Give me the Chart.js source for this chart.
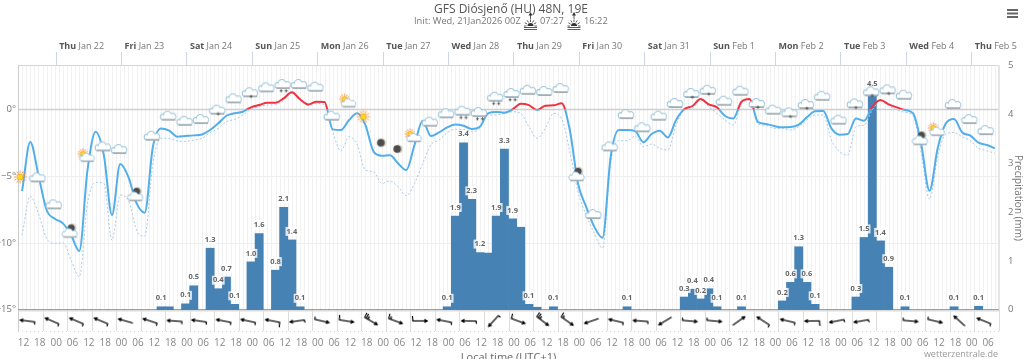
<!DOCTYPE html>
<html>
<head>
<meta charset="utf-8">
<title>GFS Diósjenő</title>
<script src="https://cdn.jsdelivr.net/npm/chart.js@4"></script>
<style>
    body { margin: 0; padding: 0; background: #fff; overflow: hidden; }
    canvas { display: block; }
</style>
</head>
<body>
<canvas id="chart" width="1024" height="359"></canvas>
<script>
// 3-hourly data, hour 0 = Thu Jan 22 00:00 local
const temp = [-6.12,-2.45,-4.92,-7.54,-8.19,-8.54,-9.42,-10.6,-4.55,-1.68,
    -3.42,-7.92,-4.1,-5.05,-7.03,-7.74,-2.8,-1.43,-1.6,-2.05,
    -2.0,-1.95,-1.88,-1.55,-1.05,-0.48,-0.3,-0.18,0.15,0.32,
    0.5,0.5,0.82,1.27,0.75,0.37,0.57,0.55,-1.5,-1.55,
    -0.8,-0.3,-1.18,-3.17,-3.47,-3.43,-4.05,-4.55,-2.67,-0.85,
    -2.0,-1.73,-1.35,-1.13,-1.23,-1.47,-1.3,-0.3,-0.2,-0.25,
    0,0.42,0.32,-0.05,0.27,0.3,0.45,-1.55,-5.55,-7.3,
    -8.8,-9.62,-3.55,-1.55,-1.55,-1.63,-2.47,-1.85,-1.6,-2.1,
    -0.8,0,0.25,0.77,0.37,0.15,-0.5,-0.68,0.57,0.77,
    -0.93,-1.1,-1.25,-1.35,-1.33,-1.15,-0.6,-0.15,-0.13,-1.43,
    -1.9,-1.85,-0.68,-0.85,0.2,0.7,0.37,0.15,-0.05,-0.3,
    -2.67,-6.1,-2.92,-1.05,-0.73,-1.73,-1.97,-2.5,-2.67,-2.92];
const dew = [-9.42,-6.5,-7.8,-9.66,-10.04,-10,-11.3,-12.54,-7.04,-5.47,
    -5.55,-9.8,-6.42,-6.8,-9.04,-9.5,-4.05,-2.17,-2.17,-2.37,
    -2.4,-2.3,-2.17,-1.75,-1.43,-0.93,-0.75,-0.43,0,0.2,
    0.32,0.37,0.7,1.2,0.68,0.3,0.45,0.35,-1.7,-3.12,
    -2.05,-2.67,-4.55,-4.67,-5.55,-5.37,-5.8,-6.47,-5.55,-4.05,
    -2.67,-2.3,-1.75,-1.5,-1.5,-1.68,-1.43,-0.43,-0.43,-0.3,
    -0.18,-0.3,-1.3,-2.17,-1.43,-0.3,-0.68,-3.17,-6.17,-7.92,
    -9.3,-10.4,-4.0,-2.35,-2.35,-2.0,-2.8,-2.6,-2.92,-3.05,
    -1.18,-0.05,0.07,0.7,0.2,-0.3,-0.8,-1.18,0.4,0.7,
    -1.1,-1.2,-1.43,-1.43,-1.55,-1.3,-0.8,-0.43,-0.43,-2.3,
    -3.17,-3.43,-1.3,-1.18,-0.05,0.62,0.27,-0.05,-0.22,-0.5,
    -3.3,-6.74,-3.55,-1.85,-1.73,-2.05,-2.35,-2.92,-3.1,-3.3];
const precip = [0,0,0,0,0,0,0,0,0,0,
    0,0,0,0,0,0,0,.06,.06,0,
    .12,.49,0,1.26,.43,.67,.11,0,.98,1.56,
    0,.81,2.1,1.43,.06,0,0,0,0,0,
    0,0,0,0,0,0,0,0,0,0,
    0,0,.06,1.92,3.42,2.26,1.17,1.16,1.92,3.29,
    1.86,1.69,.11,.05,0,.06,0,0,0,0,
    0,0,0,0,.06,0,0,0,0,0,
    0,.26,.42,.22,.43,.06,0,0,.06,0,
    0,0,0,.18,.56,1.29,.56,.11,0,0,
    0,0,.26,1.48,4.46,1.41,.87,0,.06,0,
    0,0,0,0,.06,0,0,.07,0,0];
// bars whose value label the original leaves out
const unlabelled = [18, 57, 61, 63];

// weather symbol every 6 h, with the height it sits at on the temperature axis
const iconTypes = ['sun','cloud','cloud','moonCloud','sunCloud','cloud','cloud','moonCloud','cloud','cloud',
    'cloud','cloud','dot','cloud','dot','cloud','snow','cloud','cloud','cloud',
    'sunCloud','sun','moon','moon','sunCloud','cloud','cloud','snow','snow','snow',
    'snow','cloud','cloud','cloud','moonCloud','cloud','cloud','cloud','cloud','cloud',
    'cloud','dot','dot','cloud','cloud','dot','cloud','dot','dot','cloud',
    'cloud','dot','dot','dot','cloud','moonCloud','sunCloud','cloud','cloud','cloud'];
const iconLevel = [-5.07,-5.17,-7.19,-9.29,-3.63,-2.85,-3.05,-6.55,-2.05,-0.55,
    -0.93,-0.8,-0.1,0.75,1.2,1.57,1.82,1.82,1.62,-0.55,
    0.45,-0.55,-2.5,-2.97,-2.15,-1.0,-0.37,-0.18,-0.28,0.87,
    1.15,1.39,1.3,1.52,-5.05,-7.92,-2.85,-0.43,-1.42,-0.55,
    0.4,1.15,1.39,0.57,1.32,0.4,-0.1,-0.3,0.32,0.94,
    -0.85,0.37,1.27,1.42,1.02,-2.35,-1.68,0.32,-0.8,-1.63];

// wind barb every 9 h: shaft angle in degrees, feather count class (null = no barb)
const windAngle = [7,23,23,23,16,18,4,8,11,12,
    11,-8,193,189,210,200,180,11,1,-48,
    200,217,215,-19,13,4,-31,185,185,145,
    33,13,-1,-11,-10,null,185,193,42,22];
const windFeathers = [1,1,1,1,0,1,1,1,1,1,
    2,1,1,2,4,3,2,1,1,1,
    2,4,3,0,1,1,0,1,1,0,
    1,1,2,1,1,null,1,1,0,1];

const dayTicks = [0,24,48,72,96,120,144,168,192,216,240,264,288,312,336];
const dayNames = ['Thu','Fri','Sat','Sun','Mon','Tue','Wed','Thu','Fri','Sat','Sun','Mon','Tue','Wed','Thu'];
const dayDates = ['Jan 22','Jan 23','Jan 24','Jan 25','Jan 26','Jan 27','Jan 28','Jan 29','Jan 30','Jan 31','Feb 1','Feb 2','Feb 3','Feb 4','Feb 5'];
const tempTicks = [-15,-10,-5,0];
const rainTicks = [0,1,2,3,4,5];

const hourMin = -14, hourMax = 346;
const hours = temp.map((_, i) => -12.5 + 3 * i);
const hourTicks = [];
for (let h = -12; h <= 342; h += 6) hourTicks.push(h);
const minorLines = [];
for (let h = hourMin; h <= hourMax; h += 1.5) minorLines.push(h);
const windHours = windAngle.map((_, i) => -10.5 + 9 * i);
const windLines = [];
for (let h = hourMin; h <= hourMax; h += 9) windLines.push(h);
const windRow = -15.85;

const fontName = '"Open Sans", sans-serif';

// ---- small canvases used as point styles ----
function newCanvas(size) {
    const c = document.createElement('canvas');
    c.width = size; c.height = size;
    return c;
}

function drawCloud(g, x, y, s) {
    g.save();
    g.translate(x, y);
    g.scale(s, s);
    g.beginPath();
    g.moveTo(-5, 3);
    g.arc(-5, 0.6, 2.4, Math.PI * 0.5, Math.PI * 1.5);
    g.arc(-1.2, -0.8, 3.6, Math.PI * 1.05, Math.PI * 1.85);
    g.arc(3.6, 0.3, 2.9, Math.PI * 1.35, Math.PI * 2.45);
    g.closePath();
    g.fillStyle = '#fff';
    g.fill();
    g.strokeStyle = '#9cc3da';
    g.lineWidth = 0.9;
    g.stroke();
    g.beginPath();
    g.moveTo(-6, 3.3);
    g.lineTo(6, 3.3);
    g.strokeStyle = '#a3aeb3';
    g.lineWidth = 1.4;
    g.stroke();
    g.restore();
}

function drawSun(g, x, y, r) {
    g.strokeStyle = '#f79646';
    g.lineWidth = 1;
    for (let i = 0; i < 12; i++) {
        const a = i * Math.PI / 6;
        g.beginPath();
        g.moveTo(x + Math.cos(a) * r * 0.62, y + Math.sin(a) * r * 0.62);
        g.lineTo(x + Math.cos(a) * r, y + Math.sin(a) * r);
        g.stroke();
    }
    g.beginPath();
    g.arc(x, y, r * 0.48, 0, Math.PI * 2);
    g.fillStyle = '#fbdc1c';
    g.fill();
    g.strokeStyle = '#f58a1f';
    g.lineWidth = 0.7;
    g.stroke();
}

function drawMoon(g, x, y, r) {
    g.beginPath();
    g.arc(x, y, r, 0, Math.PI * 2);
    g.fillStyle = '#d9d6c6';
    g.fill();
    g.beginPath();
    g.arc(x - 1, y, r - 0.8, 0, Math.PI * 2);
    g.fillStyle = '#4c4c4c';
    g.fill();
}

function drawFlakes(g, xs, y) {
    g.strokeStyle = '#444';
    g.lineWidth = 0.8;
    xs.forEach(x => {
        g.beginPath();
        g.moveTo(x - 1.6, y); g.lineTo(x + 1.6, y);
        g.moveTo(x, y - 1.6); g.lineTo(x, y + 1.6);
        g.stroke();
    });
}

function makeIcon(type) {
    const c = newCanvas(30), g = c.getContext('2d'), m = 15;
    if (type === 'sun') drawSun(g, m - 2, m, 6.5);
    if (type === 'moon') drawMoon(g, m, m, 4.6);
    if (type === 'sunCloud') { drawSun(g, m - 4.5, m - 4, 5.5); drawCloud(g, m, m, 1.05); }
    if (type === 'moonCloud') { drawMoon(g, m + 1, m - 5.5, 4.4); drawCloud(g, m - 1, m, 1.1); }
    if (type === 'cloud' || type === 'dot' || type === 'snow') drawCloud(g, m - 0.5, m - 0.5, 1.12);
    if (type === 'dot') drawFlakes(g, [m], m + 3.2);
    if (type === 'snow') drawFlakes(g, [m - 2.5, m + 2.5], m + 5.8);
    return c;
}

const iconCanvases = {};
iconTypes.forEach(t => { if (!iconCanvases[t]) iconCanvases[t] = makeIcon(t); });

// barb drawn with the head to the left, rotation turns it into place
function makeBarb(n) {
    const c = newCanvas(28), g = c.getContext('2d'), m = 14;
    g.strokeStyle = '#000';
    g.fillStyle = '#000';
    g.lineWidth = 1.2;
    g.beginPath();
    g.moveTo(m - 7, m);
    g.lineTo(m + 7.5, m);
    g.stroke();
    g.beginPath();
    g.moveTo(m - 8.5, m);
    g.lineTo(m - 4.5, m - 2.3);
    g.lineTo(m - 4.5, m + 2.3);
    g.closePath();
    g.fill();
    const feather = (x, len) => {
        g.beginPath();
        g.moveTo(x, m);
        g.lineTo(x + 0.6, m + len);
        g.stroke();
    };
    if (n === 1) feather(m + 7, 2.6);
    if (n === 2) feather(m + 7, 5);
    if (n === 3) { feather(m + 7, 5); feather(m + 4.7, 2.8); }
    if (n === 4) { feather(m + 7, 5); feather(m + 5, 5); feather(m + 3, 3.2); }
    return c;
}
const barbCanvases = [0,1,2,3,4].map(makeBarb);

// ---- plugins ----
const backdrop = {
    id: 'backdrop',
    beforeDatasetsDraw(chart) {
        const g = chart.ctx, x = chart.scales.x, y = chart.scales.y, a = chart.chartArea;
        const base = y.getPixelForValue(-15);
        g.save();
        g.strokeStyle = '#f1f1f1';
        g.lineWidth = 1;
        minorLines.forEach(h => {
            const px = Math.round(x.getPixelForValue(h)) + 0.5;
            g.beginPath(); g.moveTo(px, a.top); g.lineTo(px, base); g.stroke();
        });
        g.strokeStyle = '#dcdcdc';
        windLines.forEach(h => {
            const px = Math.round(x.getPixelForValue(h)) + 0.5;
            g.beginPath(); g.moveTo(px, base); g.lineTo(px, a.bottom); g.stroke();
        });
        // redraw main levels over the minor lines
        tempTicks.forEach(v => {
            const py = Math.round(y.getPixelForValue(v)) + 0.5;
            g.strokeStyle = v === 0 ? '#cfcfcf' : v === -15 ? '#dcdcdc' : '#eeeeee';
            g.lineWidth = v === -15 ? 2 : v === 0 ? 1.5 : 1;
            g.beginPath(); g.moveTo(a.left, py); g.lineTo(a.right, py); g.stroke();
        });
        // dotted foot of the wind row
        g.strokeStyle = '#d5d5d5';
        g.lineWidth = 1;
        g.setLineDash([1, 3]);
        g.beginPath(); g.moveTo(a.left, a.bottom + 0.5); g.lineTo(a.right, a.bottom + 0.5); g.stroke();
        g.setLineDash([]);
        // frame
        g.strokeStyle = '#ccd6eb';
        g.beginPath(); g.moveTo(a.left, a.top + 0.5); g.lineTo(a.right, a.top + 0.5); g.stroke();
        g.strokeStyle = '#cccccc';
        g.beginPath(); g.moveTo(a.left + 0.5, a.top); g.lineTo(a.left + 0.5, a.bottom); g.stroke();
        g.strokeStyle = '#e6e6e6';
        g.lineWidth = 2;
        g.beginPath(); g.moveTo(a.right, a.top); g.lineTo(a.right, base); g.stroke();
        g.restore();
    }
};

const barLabels = {
    id: 'barLabels',
    afterDatasetDraw(chart, args) {
        if (args.index !== 0) return;
        const g = chart.ctx;
        g.save();
        g.font = 'bold 7.5px ' + fontName;
        g.textAlign = 'center';
        g.textBaseline = 'middle';
        args.meta.data.forEach((bar, i) => {
            if (!precip[i] || unlabelled.includes(i)) return;
            const txt = precip[i].toFixed(1), w = g.measureText(txt).width;
            g.fillStyle = 'rgba(255,255,255,0.8)';
            g.fillRect(bar.x - w / 2 - 1, bar.y - 13, w + 2, 9);
            g.fillStyle = '#666';
            g.fillText(txt, bar.x, bar.y - 8.5);
        });
        g.restore();
    }
};

function sunIcon(g, x, y) {
    g.strokeStyle = '#333';
    g.fillStyle = '#333';
    g.lineWidth = 0.8;
    g.beginPath(); g.arc(x, y + 8, 3, Math.PI, 0); g.fill();
    for (let i = 0; i < 7; i++) {
        const a = Math.PI + i * Math.PI / 6;
        g.beginPath();
        g.moveTo(x + Math.cos(a) * 4, y + 8 + Math.sin(a) * 4);
        g.lineTo(x + Math.cos(a) * 6.5, y + 8 + Math.sin(a) * 6.5);
        g.stroke();
    }
    g.beginPath(); g.moveTo(x - 6.5, y + 9.5); g.lineTo(x + 6.5, y + 9.5); g.stroke();
    g.beginPath(); g.moveTo(x - 6.5, y + 11.5); g.lineTo(x + 6.5, y + 11.5); g.stroke();
    g.beginPath(); g.moveTo(x, y + 1); g.lineTo(x, y - 4); g.stroke();
    g.beginPath(); g.moveTo(x, y - 6); g.lineTo(x - 2, y - 2.5); g.lineTo(x + 2, y - 2.5); g.closePath(); g.fill();
}

const texts = {
    id: 'texts',
    afterDraw(chart) {
        const g = chart.ctx, top = chart.scales.x2;
        g.save();
        g.textBaseline = 'middle';
        g.textAlign = 'center';
        g.fillStyle = '#555';
        g.font = '12px ' + fontName;
        g.fillText('GFS Diósjenő (HU) 48N, 19E', 511, 10);
        g.textAlign = 'left';
        g.fillStyle = '#777';
        g.font = '9.3px ' + fontName;
        g.fillText('Init: Wed, 21Jan2026 00Z', 414, 21);
        g.fillText('07:27', 540, 21);
        g.fillText('16:22', 584, 21);
        sunIcon(g, 530.5, 18);
        sunIcon(g, 574, 18);
        // day headers, weekday in bold
        dayTicks.forEach((h, i) => {
            const px = top.getPixelForValue(h) + 3;
            g.font = 'bold 9px ' + fontName;
            g.fillStyle = '#555';
            g.fillText(dayNames[i], px, 46);
            const w = g.measureText(dayNames[i] + ' ').width;
            g.font = '9px ' + fontName;
            g.fillStyle = '#777';
            g.fillText(dayDates[i], px + w, 46);
        });
        // credit
        g.textAlign = 'right';
        g.font = '9px ' + fontName;
        g.fillStyle = '#999';
        g.fillText('wetterzentrale.de', 998, 354);
        // menu symbol
        g.fillStyle = '#666';
        [9, 12.5, 16].forEach(y => g.fillRect(1007, y, 11, 2));
        g.restore();
    }
};

// ---- chart ----
function tempColor(ctx) {
    const chart = ctx.chart, a = chart.chartArea;
    if (!a) return '#52aeea';
    const y0 = chart.scales.y.getPixelForValue(0);
    const stop = (y0 - a.top) / (a.bottom - a.top);
    const grad = chart.ctx.createLinearGradient(0, a.top, 0, a.bottom);
    grad.addColorStop(0, '#ef3340');
    grad.addColorStop(stop, '#ef3340');
    grad.addColorStop(stop, '#52aeea');
    grad.addColorStop(1, '#52aeea');
    return grad;
}

const axisFont = { family: fontName, size: 9.5 };

new Chart(document.getElementById('chart'), {
    data: {
        datasets: [
            {
                type: 'bar',
                data: hours.map((h, i) => ({ x: h, y: precip[i] })),
                xAxisID: 'x', yAxisID: 'y2',
                backgroundColor: '#4682b4',
                barPercentage: 1, categoryPercentage: 1,
                order: 4
            },
            {
                type: 'line',
                data: hours.map((h, i) => ({ x: h, y: dew[i] })),
                xAxisID: 'x', yAxisID: 'y',
                borderColor: '#a9c9e8',
                borderWidth: 1,
                borderDash: [2, 2],
                pointRadius: 0,
                cubicInterpolationMode: 'monotone',
                order: 3
            },
            {
                type: 'line',
                data: hours.map((h, i) => ({ x: h, y: temp[i] })),
                xAxisID: 'x', yAxisID: 'y',
                borderColor: tempColor,
                borderWidth: 2,
                pointRadius: 0,
                cubicInterpolationMode: 'monotone',
                order: 2
            },
            {
                type: 'scatter',
                data: iconTypes.map((_, i) => ({ x: hours[i * 2], y: iconLevel[i] })),
                xAxisID: 'x', yAxisID: 'y',
                pointStyle: ctx => iconCanvases[iconTypes[ctx.dataIndex]],
                pointRadius: 1,
                clip: false,
                order: 1
            },
            {
                type: 'scatter',
                data: windHours.map((h, i) => ({ x: h, y: windAngle[i] === null ? null : windRow })),
                xAxisID: 'x', yAxisID: 'y',
                pointStyle: ctx => barbCanvases[windFeathers[ctx.dataIndex] || 0],
                rotation: ctx => windAngle[ctx.dataIndex] || 0,
                pointRadius: 1,
                order: 1
            }
        ]
    },
    plugins: [backdrop, barLabels, texts],
    options: {
        responsive: false,
        animation: false,
        events: [],
        layout: { padding: 0 },
        plugins: { legend: { display: false }, tooltip: { enabled: false } },
        scales: {
            x: {
                type: 'linear', position: 'bottom', min: hourMin, max: hourMax,
                offset: false,
                grid: { display: false, drawTicks: false },
                border: { display: false },
                afterBuildTicks: s => { s.ticks = hourTicks.map(v => ({ value: v })); },
                afterFit: s => { s.height = 28; },
                ticks: {
                    autoSkip: false, maxRotation: 0, padding: 6,
                    color: '#888', font: { family: fontName, size: 10 },
                    callback: v => String((v + 240) % 24).padStart(2, '0')
                },
                title: {
                    display: true, text: 'Local time (UTC+1)',
                    color: '#666', font: { family: fontName, size: 11 },
                    padding: { top: 0, bottom: -5 }
                }
            },
            x2: {
                type: 'linear', position: 'top', min: hourMin, max: hourMax,
                grid: { drawOnChartArea: false, tickLength: 13, color: '#ccd6eb' },
                border: { display: false },
                afterBuildTicks: s => { s.ticks = dayTicks.map(v => ({ value: v })); },
                afterFit: s => { s.height = 65; },
                ticks: { display: true, autoSkip: false, maxRotation: 0, callback: () => '', font: { size: 1 }, padding: 0 }
            },
            y: {
                type: 'linear', position: 'left', min: -16.6, max: 3.32,
                grid: { display: false, drawTicks: false },
                border: { display: false },
                afterBuildTicks: s => { s.ticks = tempTicks.map(v => ({ value: v })); },
                afterFit: s => { s.width = 18; },
                ticks: {
                    padding: 2, color: '#777', font: axisFont,
                    callback: v => (v < 0 ? '−' + (-v) : v) + '°'
                }
            },
            y2: {
                type: 'linear', position: 'right', min: -0.4365, max: 5.014,
                grid: { display: false, drawTicks: false },
                border: { display: false },
                afterBuildTicks: s => { s.ticks = rainTicks.map(v => ({ value: v })); },
                afterFit: s => { s.width = 25; },
                ticks: { padding: 9, color: '#777', font: axisFont },
                title: {
                    display: true, text: 'Precipitation (mm)',
                    color: '#777', font: { family: fontName, size: 10 },
                    padding: 0
                }
            }
        }
    }
});
</script>
</body>
</html>
